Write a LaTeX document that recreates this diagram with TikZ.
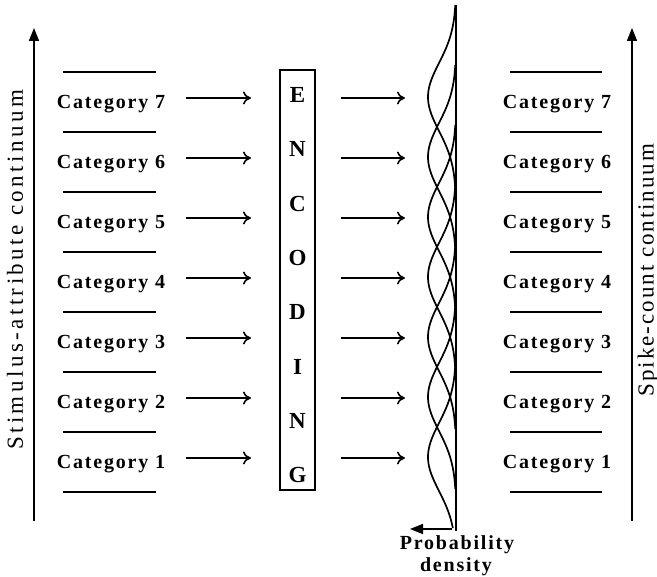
\documentclass[tikz,border=0pt]{standalone}
\usepackage{fontspec}
\setmainfont{Liberation Serif}
\newfontfamily\catfont[LetterSpace=9]{Liberation Serif}
\newfontfamily\axfontL[LetterSpace=15]{Liberation Serif}
\newfontfamily\axfontR[LetterSpace=8.5]{Liberation Serif}
\usetikzlibrary{arrows.meta}
\begin{document}
\begin{tikzpicture}[x=1pt,y=-1pt,
  cat/.style={font=\catfont\bfseries\fontsize{20}{23}\selectfont, inner sep=0pt},
  sep/.style={line width=1.2pt},
  flow/.style={line width=1.6pt, -{Computer Modern Rightarrow[length=8pt,width=13pt]}},
  axis/.style={line width=1.7pt, -{Triangle[length=13pt,width=10pt]}},
  enc/.style={font=\bfseries\fontsize{23}{26}\selectfont, inner sep=0pt},
  dens/.style={line width=1.7pt},
  axlabel/.style={rotate=90, inner sep=0pt},
]
\useasboundingbox (0,0) rectangle (657,577);

% axes
\coordinate (l0) at (34,521); \coordinate (l1) at (34,28);
\coordinate (r0) at (632,521); \coordinate (r1) at (632,28);
\draw[axis] (l0) -- (l1);
\draw[axis] (r0) -- (r1);
\node[axlabel, font=\axfontL\fontsize{23}{26}\selectfont] (sl) at (15,270) {Stimulus-attribute continuum};
\node[axlabel, font=\axfontR\fontsize{23}{26}\selectfont] (sr) at (648,270) {Spike-count continuum};

% separator lines
\foreach \j in {0,...,7}{
  \pgfmathsetmacro{\ys}{72+60*\j}
  \coordinate (sa\j) at (63,\ys); \coordinate (sb\j) at (156,\ys);
  \coordinate (sc\j) at (510,\ys); \coordinate (sd\j) at (602,\ys);
  \draw[sep] (sa\j) -- (sb\j);
  \draw[sep] (sc\j) -- (sd\j);
}

% encoding box
\node[draw, line width=1.2pt, minimum width=35pt, minimum height=420pt, inner sep=0pt] (box) at (297.5,280) {};
\foreach \ch [count=\i from 0] in {E,N,C,O,D,I,N,G}{
  \node[enc] (e\i) at (297.5,{95+54.3*\i}) {\ch};
}

% categories and arrows
\foreach \k in {1,...,7}{
  \pgfmathsetmacro{\ym}{462-60*(\k-1)}
  \pgfmathsetmacro{\ya}{\ym-4}
  \pgfmathsetmacro{\yb}{\ym+7}
  \node[cat, anchor=base] (L\k) at (111,\yb) {Category \k};
  \node[cat, anchor=base] (R\k) at (557,\yb) {Category \k};
  \coordinate (la\k) at (186,\ya); \coordinate (lb\k) at (251,\ya);
  \coordinate (ra\k) at (341,\ya); \coordinate (rb\k) at (405,\ya);
  \draw[flow] (la\k) -- (lb\k);
  \draw[flow] (ra\k) -- (rb\k);
}

% probability densities
\coordinate (top) at (456,5); \coordinate (bot) at (456,531);
\draw[line width=1.9pt] (top) -- (bot);
\foreach \k in {0,...,5}{
  \pgfmathsetmacro{\yp}{97+60*\k}
  \draw[dens] plot[domain=-92:92, samples=60, smooth] ({456-28*exp(-(\x)^2/2312)}, {\yp+\x});
}
\draw[dens] plot[domain=-92:71, samples=60, smooth] ({456-28*exp(-(\x)^2/2312)}, {457+\x});
\coordinate (pa) at (452,529); \coordinate (pb) at (410,529);
\draw[line width=1.6pt, -{Triangle[length=13pt,width=10pt]}] (pa) -- (pb);
\node[cat, anchor=base] (p1) at (457,550) {Probability};
\node[cat, anchor=base] (p2) at (456,572) {density};
\end{tikzpicture}
\end{document}
